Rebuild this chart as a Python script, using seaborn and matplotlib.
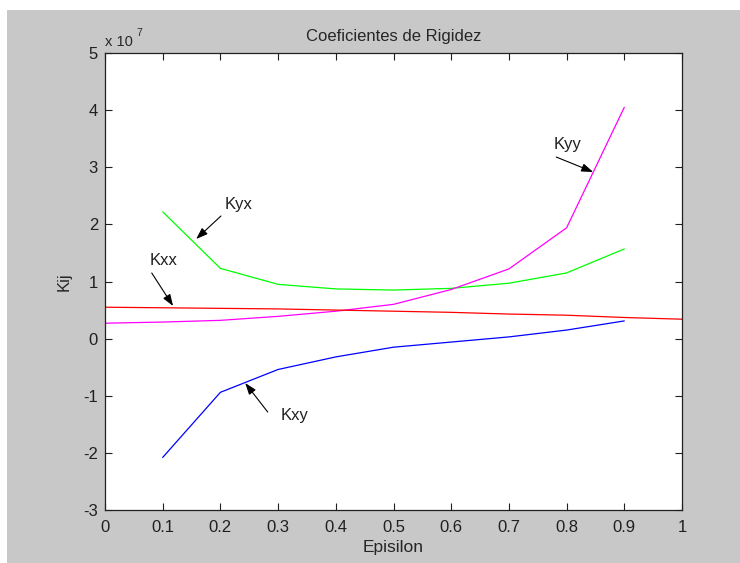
import numpy as np
import pandas as pd
import matplotlib
matplotlib.use("Agg")
import matplotlib.pyplot as plt
from matplotlib.patches import Rectangle
from matplotlib.ticker import FuncFormatter
import seaborn as sns

# Stiffness coefficients (units of 1e7 N/m) against eccentricity
SCALE = 1e7
eps_full = [0.0, 0.1, 0.2, 0.3, 0.4, 0.5, 0.6, 0.7, 0.8, 0.9, 1.0]
eps_mid = [0.1, 0.2, 0.3, 0.4, 0.5, 0.6, 0.7, 0.8, 0.9]
eps_yy = [0.0, 0.1, 0.2, 0.3, 0.4, 0.5, 0.6, 0.7, 0.8, 0.9]

kxx = [0.55, 0.54, 0.53, 0.52, 0.50, 0.48, 0.46, 0.43, 0.41, 0.37, 0.34]
kyx = [2.22, 1.23, 0.95, 0.87, 0.85, 0.88, 0.97, 1.15, 1.57]
kxy = [-2.08, -0.94, -0.54, -0.32, -0.15, -0.06, 0.03, 0.15, 0.31]
kyy = [0.27, 0.29, 0.32, 0.39, 0.48, 0.60, 0.86, 1.22, 1.94, 4.05]

series_names = ["Kyx", "Kyy", "Kxx", "Kxy"]
series_colors = ["#00ff00", "#ff00ff", "#ff0000", "#0000ff"]

x_ticks = [0, 0.1, 0.2, 0.3, 0.4, 0.5, 0.6, 0.7, 0.8, 0.9, 1]
y_ticks = [-3, -2, -1, 0, 1, 2, 3, 4, 5]

frames = [
    pd.DataFrame({"Epsilon": eps_mid, "K": np.array(kyx) * SCALE, "coef": "Kyx"}),
    pd.DataFrame({"Epsilon": eps_yy, "K": np.array(kyy) * SCALE, "coef": "Kyy"}),
    pd.DataFrame({"Epsilon": eps_full, "K": np.array(kxx) * SCALE, "coef": "Kxx"}),
    pd.DataFrame({"Epsilon": eps_mid, "K": np.array(kxy) * SCALE, "coef": "Kxy"}),
]
df = pd.concat(frames, ignore_index=True)

sns.set_style("ticks")
plt.rcParams["font.family"] = ["Liberation Sans", "DejaVu Sans"]

W, H = 740, 563
fig = plt.figure(figsize=(W / 100, H / 100), dpi=100, facecolor="white")

# grey window background
fig.patches.append(Rectangle((7 / W, 0.0), 1 - 7 / W, 1 - 10 / H,
                             transform=fig.transFigure, facecolor="#c8c8c8",
                             edgecolor="none", zorder=-10))

ax = fig.add_axes([105 / W, 1 - 510 / H, 577 / W, 457 / H])
ax.set_facecolor("white")

sns.lineplot(data=df, x="Epsilon", y="K", hue="coef", hue_order=series_names,
             palette=dict(zip(series_names, series_colors)), estimator=None,
             sort=False, legend=False, linewidth=0.9, ax=ax)

ax.set_xlim(0, 1)
ax.set_ylim(-3 * SCALE, 5 * SCALE)
ax.set_xticks(x_ticks)
ax.set_yticks([v * SCALE for v in y_ticks])
ax.xaxis.set_major_formatter(FuncFormatter(lambda v, p: "%g" % round(v, 2)))
ax.yaxis.set_major_formatter(FuncFormatter(lambda v, p: "%g" % round(v / SCALE, 2)))
ax.tick_params(direction="in", length=5, width=0.8, top=True, right=True,
               labelsize=12, colors="#202020")
ax.tick_params(axis="x", pad=7)
ax.tick_params(axis="y", pad=5)
for s in ax.spines.values():
    s.set_visible(True)
    s.set_linewidth(0.9)
    s.set_color("#202020")

ax.set_title("Coeficientes de Rigidez", fontsize=12, pad=9)
ax.set_xlabel("Episilon", fontsize=12.5, labelpad=4)
ax.set_ylabel("Kij", fontsize=12, labelpad=8)

# exponent of the y axis
fig.text(105 / W, 1 - 46 / H, "x 10", fontsize=10.5, ha="left", va="baseline")
fig.text(136 / W, 1 - 36 / H, "7", fontsize=7.5, ha="left", va="baseline")

# curve labels with arrows
labels = [
    ("Kyx", (0.158, 1.744), (0.201, 2.147), (0.231, 2.34)),
    ("Kxx", (0.118, 0.571), (0.081, 1.149), (0.102, 1.376)),
    ("Kxy", (0.243, -0.777), (0.282, -1.285), (0.329, -1.337)),
    ("Kyy", (0.846, 2.917), (0.782, 3.179), (0.801, 3.39)),
]
for name, head, tail, pos in labels:
    ax.annotate("", xy=(head[0], head[1] * SCALE), xytext=(tail[0], tail[1] * SCALE),
                arrowprops=dict(arrowstyle="-|>,head_length=0.7,head_width=0.25",
                                color="black", lw=0.8, shrinkA=0, shrinkB=0))
    ax.text(pos[0], pos[1] * SCALE, name, fontsize=12, ha="center", va="center",
            color="#202020")

fig.savefig("out.png", dpi=100, facecolor=fig.get_facecolor())
